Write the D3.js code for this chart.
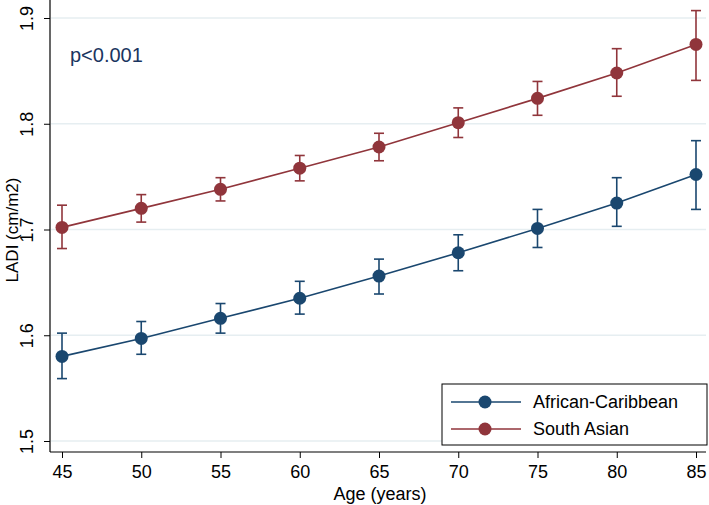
<!DOCTYPE html>
<html><head><meta charset="utf-8">
<script src="https://cdn.jsdelivr.net/npm/d3@7"></script>
<style>body{margin:0;background:#fff}svg{display:block;font-family:"Liberation Sans",Arial,sans-serif}</style>
</head><body><svg id="c" width="709" height="505"></svg>
<script>
const ages = [45,50,55,60,65,70,75,80,85];
const yTicks = [1.5,1.6,1.7,1.8,1.9];
const xTicks = [45,50,55,60,65,70,75,80,85];
const acMean = [1.580,1.597,1.616,1.635,1.656,1.678,1.701,1.725,1.752];
const acLow  = [1.559,1.582,1.602,1.620,1.639,1.661,1.683,1.703,1.719];
const acHigh = [1.602,1.613,1.630,1.651,1.672,1.695,1.719,1.749,1.784];
const saMean = [1.702,1.720,1.738,1.758,1.778,1.801,1.824,1.848,1.875];
const saLow  = [1.682,1.707,1.727,1.746,1.765,1.787,1.808,1.826,1.841];
const saHigh = [1.723,1.733,1.749,1.770,1.791,1.815,1.840,1.871,1.907];
const seriesNames = ["African-Caribbean","South Asian"];
const colors = ["#1a476f","#90353b"];

const svg = d3.select("#c");
const x = d3.scaleLinear().domain([45,85]).range([62,696]);
const y = d3.scaleLinear().domain([1.5,1.9]).range([441,18]);
const axisX0 = 50, axisY0 = 452;

// gridlines
svg.append("g").selectAll("line").data(yTicks).join("line")
  .attr("x1",axisX0+1).attr("x2",706).attr("y1",d=>y(d)).attr("y2",d=>y(d))
  .attr("stroke","#e6eef1").attr("stroke-width",1.5);

// y axis
const ya = svg.append("g").attr("transform",`translate(${axisX0},0)`)
  .call(d3.axisLeft(y).tickValues(yTicks).tickSize(6).tickFormat(d3.format(".1f")));
ya.select(".domain").remove();
ya.selectAll("line").attr("stroke","#000");
ya.selectAll(".tick text").each(function(){
  d3.select(this).attr("x",-22).attr("y",0).attr("dy",null)
    .attr("transform","rotate(-90,-22,0)").attr("text-anchor","middle")
    .attr("dominant-baseline","middle").attr("font-size",18).attr("fill","#000");
});
svg.append("line").attr("x1",axisX0).attr("x2",axisX0).attr("y1",0).attr("y2",axisY0).attr("stroke","#000").attr("stroke-width",1.2);

// x axis
const xa = svg.append("g").attr("transform",`translate(0,${axisY0})`)
  .call(d3.axisBottom(x).tickValues(xTicks).tickSize(6).tickFormat(d3.format("d")));
xa.select(".domain").remove();
xa.selectAll("line").attr("stroke","#000");
xa.selectAll("text").attr("font-size",18).attr("fill","#000").attr("dy","0.95em");
svg.append("line").attr("x1",axisX0).attr("x2",706).attr("y1",axisY0).attr("y2",axisY0).attr("stroke","#000").attr("stroke-width",1.2);

// axis titles
svg.append("text").attr("transform","translate(18,230) rotate(-90)").attr("text-anchor","middle")
  .attr("font-size",17).attr("fill","#000").text("LADI (cm/m2)");
svg.append("text").attr("x",380).attr("y",500).attr("text-anchor","middle")
  .attr("font-size",18).attr("fill","#000").text("Age (years)");

// p value
svg.append("text").attr("x",70).attr("y",62).attr("font-size",20).attr("fill","#1a3560").text("p<0.001");

const series = [
  {mean:acMean,low:acLow,high:acHigh,color:colors[0]},
  {mean:saMean,low:saLow,high:saHigh,color:colors[1]}
];
const line = d3.line().x((d,i)=>x(ages[i])).y(d=>y(d));
series.forEach(s=>{
  const g = svg.append("g");
  g.append("path").attr("d",line(s.mean)).attr("fill","none").attr("stroke",s.color).attr("stroke-width",1.6);
  const eb = g.selectAll("g.eb").data(ages).join("g");
  eb.append("line").attr("x1",d=>x(d)).attr("x2",d=>x(d)).attr("y1",(d,i)=>y(s.low[i])).attr("y2",(d,i)=>y(s.high[i]))
    .attr("stroke",s.color).attr("stroke-width",1.6);
  eb.append("line").attr("x1",d=>x(d)-5).attr("x2",d=>x(d)+5).attr("y1",(d,i)=>y(s.low[i])).attr("y2",(d,i)=>y(s.low[i]))
    .attr("stroke",s.color).attr("stroke-width",1.6);
  eb.append("line").attr("x1",d=>x(d)-5).attr("x2",d=>x(d)+5).attr("y1",(d,i)=>y(s.high[i])).attr("y2",(d,i)=>y(s.high[i]))
    .attr("stroke",s.color).attr("stroke-width",1.6);
  g.selectAll("circle").data(s.mean).join("circle").attr("cx",(d,i)=>x(ages[i])).attr("cy",d=>y(d)).attr("r",6.5).attr("fill",s.color);
});

// legend
const lg = svg.append("g");
lg.append("rect").attr("x",442).attr("y",384).attr("width",265).attr("height",61).attr("fill","#fff").attr("stroke","#000").attr("stroke-width",1);
seriesNames.forEach((n,i)=>{
  const yy = 402 + i*27;
  lg.append("line").attr("x1",451).attr("x2",521).attr("y1",yy).attr("y2",yy).attr("stroke",colors[i]).attr("stroke-width",1.6);
  lg.append("circle").attr("cx",485).attr("cy",yy).attr("r",6.5).attr("fill",colors[i]);
  lg.append("text").attr("x",533).attr("y",yy).attr("dy","0.35em").attr("font-size",18).attr("fill","#000").text(n);
});
</script></body></html>
